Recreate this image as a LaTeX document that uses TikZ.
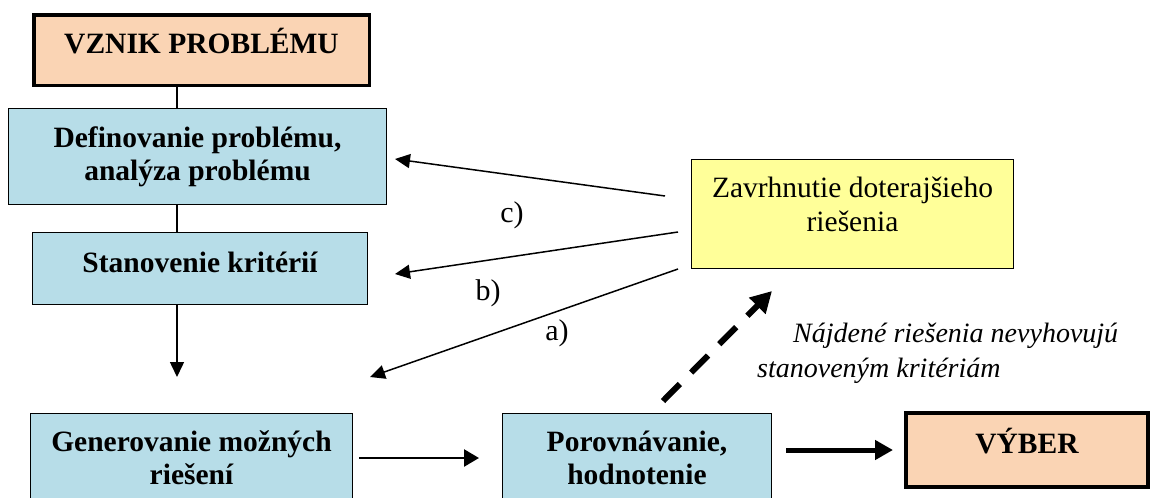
\documentclass[tikz,border=0pt]{standalone}
\usepackage{fontspec}
\setmainfont{Liberation Serif}
\usetikzlibrary{arrows.meta,calc}
\definecolor{peach}{RGB}{250,212,180}
\definecolor{lblue}{RGB}{183,221,232}
\definecolor{lyellow}{RGB}{255,255,153}
\begin{document}
\begin{tikzpicture}[x=1pt,y=-1pt,
  box/.style={draw=black, rectangle, inner sep=0pt, align=center,
    font=\fontsize{29.5}{33}\selectfont\bfseries, line width=1.3pt, fill=lblue},
  oneline/.style={text height=22pt, text depth=15pt},
  endbox/.style={box, oneline, fill=peach},
  yellowbox/.style={draw=black, rectangle, inner sep=0pt, line width=1pt, fill=lyellow},
  plain/.style={line width=1.5pt},
  thinarrow/.style={line width=1.5pt, -{Triangle[length=15pt,width=14pt]}},
  midarrow/.style={line width=2.5pt, -{Triangle[length=15pt,width=17pt]}},
  thickarrow/.style={line width=5pt, -{Triangle[length=18pt,width=19pt]}},
  dasharrow/.style={line width=6pt, dash pattern=on 24pt off 16pt, -{Triangle[length=21pt,width=22pt]}},
  lbl/.style={inner sep=0pt, font=\fontsize{30}{34}\selectfont},
  note/.style={inner sep=0pt, align=left, font=\fontsize{28}{35}\selectfont\itshape}
]
\clip (0,0) rectangle (1154,498);

\node[endbox, line width=3.5pt, minimum width=335.5pt, minimum height=70.5pt] (vznik) at (201.5,50) {VZNIK PROBLÉMU};
\node[box, minimum width=377.7pt, minimum height=95.7pt] (def) at (197.5,156.5) {Definovanie problému,\\analýza problému};
\node[box, oneline, minimum width=334.7pt, minimum height=71.7pt] (stan) at (200,268.5) {Stanovenie kritérií};
\node[box, minimum width=321.7pt, minimum height=88.7pt] (gen) at (191.5,458) {Generovanie možných\\riešení};
\node[box, minimum width=268.7pt, minimum height=88.7pt] (por) at (637,458) {Porovnávanie,\\hodnotenie};
\node[endbox, line width=4pt, minimum width=242pt, minimum height=74pt] (vyber) at (1027,450) {VÝBER};
\node[yellowbox, minimum width=322pt, minimum height=109pt,
  label={[yshift=10pt, align=center, font=\fontsize{29.5}{34}\selectfont]center:Zavrhnutie doterajšieho\\riešenia}] (zav) at (852.5,214) {};

\coordinate (vx) at (177,0);
\coordinate (downend) at (177,377);
\draw[plain] (vznik.south -| vx) -- (def.north -| vx);
\draw[plain] (def.south -| vx) -- (stan.north -| vx);
\draw[thinarrow] (stan.south -| vx) -- (downend);

\draw[thinarrow] ($(zav.west)+(-26,-18)$) -- ($(def.east)+(8,2.5)$);
\draw[thinarrow] ($(zav.west)+(-13,18)$) -- ($(stan.east)+(27,5.5)$);
\draw[thinarrow] ($(zav.south west)+(-13,0)$) -- ($(gen.north east)+(17,-36)$);

\node[lbl] (lc) at (512,215) {c)};
\node[lbl] (lb) at (488,293) {b)};
\node[lbl] (la) at (557,333) {a)};

\draw[midarrow] ($(gen.east)+(6,0)$) -- ($(por.west)+(-23,0)$);
\draw[thickarrow] ($(por.east |- vyber.west)+(14,0)$) -- ($(vyber.west)+(-11,0)$);
\draw[dasharrow] ($(por.north)+(26,-12)$) -- ($(zav.south)+(-80.5,22)$);

\node[note, anchor=base west] (nt) at (757,377) {\hspace*{36pt}Nájdené riešenia nevyhovujú\\stanoveným kritériám};
\end{tikzpicture}
\end{document}
